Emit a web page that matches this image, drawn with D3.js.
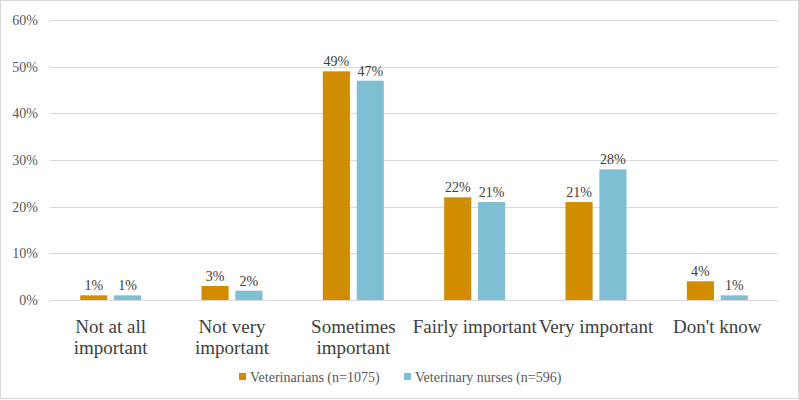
<!DOCTYPE html>
<html>
<head>
<meta charset="utf-8">
<script src="https://cdn.jsdelivr.net/npm/d3@7"></script>
<style>
    body { margin: 0; background: #fff; }
    svg { display: block; }
    svg text { font-family: "Liberation Serif", "Times New Roman", serif; }
</style>
</head>
<body>
<div id="chart"></div>
<script>
const categories = [["Not at all", "important"], ["Not very", "important"], ["Sometimes", "important"], ["Fairly important"], ["Very important"], ["Don't know"]];
const seriesNames = ["Veterinarians (n=1075)", "Veterinary nurses (n=596)"];
const vets = [1, 3, 49, 22, 21, 4];
const nurses = [1, 2, 47, 21, 28, 1];
const yTicks = [0, 10, 20, 30, 40, 50, 60];
const colors = ["#D28C00", "#7FBFD3"];

const W = 799, H = 400;
const margin = { top: 20, right: 21, bottom: 100, left: 50 };
const width = W - margin.left - margin.right,
    height = H - margin.top - margin.bottom;

const svg = d3.select("#chart").append("svg")
    .attr("width", W)
    .attr("height", H);

svg.append("rect")
    .attr("x", 0.5).attr("y", 0.5)
    .attr("width", W - 1).attr("height", H - 2)
    .attr("fill", "#fff")
    .attr("stroke", "#d9d9d9");

const chart = svg.append("g")
    .attr("transform", `translate(${margin.left},${margin.top})`);

const keys = categories.map((c, i) => i);
const x = d3.scaleBand().domain(keys).range([0, width]);
const x1 = d3.scaleBand().domain([0, 1]).range([x.bandwidth() / 2 - 30.5, x.bandwidth() / 2 + 30.5]).paddingInner(0.2);
const y = d3.scaleLinear().domain([0, 60]).range([height, 0]);

// gridlines
chart.append("g")
    .selectAll("line")
    .data(yTicks)
    .enter().append("line")
    .attr("x1", 0).attr("x2", width)
    .attr("y1", d => Math.round(y(d)) + 0.5)
    .attr("y2", d => Math.round(y(d)) + 0.5)
    .attr("stroke", "#d9d9d9");

const yAxis = chart.append("g")
    .call(d3.axisLeft(y).tickValues(yTicks).tickFormat(d => d + "%").tickSize(0).tickPadding(12));
yAxis.attr("font-family", null);
yAxis.select(".domain").remove();
yAxis.selectAll("text").attr("fill", "#595959").style("font-size", "14px");

const data = [vets, nurses];
const groups = chart.selectAll(".grp")
    .data(keys)
    .enter().append("g")
    .attr("transform", d => `translate(${x(d)},0)`);

data.forEach((vals, s) => {
    groups.append("rect")
        .attr("x", d => x1(s))
        .attr("y", d => y(vals[d]))
        .attr("width", x1.bandwidth())
        .attr("height", d => height - y(vals[d]))
        .attr("fill", colors[s]);
    groups.append("text")
        .attr("x", d => x1(s) + x1.bandwidth() / 2)
        .attr("y", d => y(vals[d]) - 5)
        .attr("text-anchor", "middle")
        .attr("fill", "#404040")
        .style("font-size", "14px")
        .text(d => vals[d] + "%");
});

// category labels
groups.each(function (d) {
    const t = d3.select(this).append("text")
        .attr("text-anchor", "middle")
        .attr("fill", "#404040")
        .style("font-size", "19px");
    categories[d].forEach((line, j) => {
        t.append("tspan")
            .attr("x", x.bandwidth() / 2)
            .attr("y", height + 33 + j * 21)
            .text(line);
    });
});

// legend
const legend = svg.append("g").attr("transform", "translate(0,377)");
const legendX = [239, 404];
seriesNames.forEach((name, i) => {
    legend.append("rect")
        .attr("x", legendX[i]).attr("y", -4)
        .attr("width", 7).attr("height", 7)
        .attr("fill", colors[i]);
    legend.append("text")
        .attr("x", legendX[i] + 11).attr("y", 0)
        .attr("dy", "0.35em")
        .attr("fill", "#595959")
        .style("font-size", "14px")
        .text(name);
});
</script>
</body>
</html>
